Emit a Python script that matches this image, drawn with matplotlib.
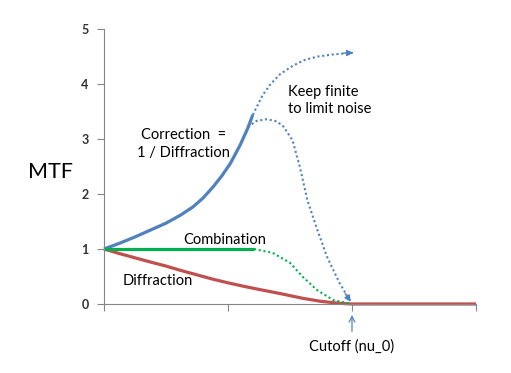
import matplotlib
matplotlib.use('Agg')
import matplotlib.pyplot as plt

# values
diff_x = [0, 0.12, 0.25, 0.38, 0.5, 0.62, 0.75, 0.88, 1.0, 1.12, 1.25, 1.42, 1.6, 1.75, 1.9, 2.0, 2.5, 3.0]
diff_y = [1, 0.92, 0.84, 0.76, 0.69, 0.61, 0.53, 0.45, 0.385, 0.325, 0.265, 0.19, 0.105, 0.048, 0.012, 0, 0, 0]

corr_x = [0, 0.12, 0.24, 0.36, 0.5, 0.62, 0.72, 0.8, 0.88, 0.95, 1.02, 1.1, 1.16, 1.2]
corr_y = [1, 1.1, 1.21, 1.33, 1.47, 1.62, 1.77, 1.93, 2.13, 2.33, 2.56, 2.9, 3.2, 3.44]

keep_x = [1.2, 1.24, 1.28, 1.34, 1.42, 1.52, 1.62, 1.72, 1.85, 2.01]
keep_y = [3.44, 3.62, 3.8, 3.99, 4.18, 4.33, 4.44, 4.5, 4.54, 4.57]

limit_x = [1.16, 1.23, 1.31, 1.38, 1.44, 1.52, 1.58, 1.64, 1.72, 1.80, 1.90, 1.99]
limit_y = [3.22, 3.33, 3.36, 3.33, 3.25, 2.98, 2.49, 1.89, 1.35, 0.85, 0.38, 0.04]

comb_x = [0, 1.21]
comb_y = [1, 1]
comb_dot_x = [1.21, 1.36, 1.5, 1.6, 1.72, 1.85, 1.98]
comb_dot_y = [1.0, 0.93, 0.75, 0.5, 0.25, 0.07, 0.01]

blue = '#4F81BD'
red = '#C0504D'
green = '#00B050'

plt.rcParams['font.family'] = ['Lato', 'DejaVu Sans']

fig = plt.figure(figsize=(5.11, 3.73), dpi=100)
ax = fig.add_axes([0.2035, 0.185, 0.728, 0.737])

ax.plot(diff_x, diff_y, color=red, lw=2.3, clip_on=False, solid_capstyle='butt', solid_joinstyle='round')
ax.plot(corr_x, corr_y, color=blue, lw=2.3, clip_on=False, solid_capstyle='butt', solid_joinstyle='round')
ax.plot(comb_x, comb_y, color=green, lw=2.3, clip_on=False, solid_capstyle='butt')
ax.plot(comb_dot_x, comb_dot_y, color=green, lw=1.5, ls=(0, (1, 1.3)))
ax.plot(keep_x, keep_y, color=blue, lw=1.5, ls=(0, (1, 1.3)))
ax.plot(limit_x, limit_y, color=blue, lw=1.5, ls=(0, (1, 1.3)))

# arrow heads at the end of the dotted curves
ax.annotate('', xy=(keep_x[-1], keep_y[-1]), xytext=(-7, -0.3), textcoords='offset points',
            arrowprops=dict(arrowstyle='-|>', color=blue, lw=1.0, mutation_scale=9,
                            shrinkA=0, shrinkB=0))
ax.annotate('', xy=(limit_x[-1], limit_y[-1]), xytext=(-4, 6), textcoords='offset points',
            arrowprops=dict(arrowstyle='-|>', color=blue, lw=1.0, mutation_scale=9,
                            shrinkA=0, shrinkB=0))

ax.set_xlim(0, 3)
ax.set_ylim(0, 5)
ax.set_xticks([0, 1, 2, 3])
ax.set_xticklabels([])
ax.set_yticks([0, 1, 2, 3, 4, 5])
for s in ['top', 'right']:
    ax.spines[s].set_visible(False)
for s in ['left', 'bottom']:
    ax.spines[s].set_color('#868686')
ax.tick_params(color='#868686', length=5, width=0.8, labelsize=9, labelcolor='#333333', pad=6)
for lab in ax.get_yticklabels():
    lab.set_fontweight('bold')

fig.text(50 / 511, 1 - 172 / 373, 'MTF', fontsize=15.5, ha='center', va='center')

tk = dict(fontsize=10.5, color='black')
ax.text(0.64, 3.07, 'Correction  =', ha='center', va='center', **tk)
ax.text(0.64, 2.75, '1 / Diffraction', ha='center', va='center', **tk)
ax.text(1.48, 3.85, 'Keep finite', ha='left', va='center', **tk)
ax.text(1.48, 3.54, 'to limit noise', ha='left', va='center', **tk)
ax.text(0.97, 1.16, 'Combination', ha='center', va='center', **tk)
ax.text(0.15, 0.42, 'Diffraction', ha='left', va='center', **tk)
ax.text(2.0, -0.77, 'Cutoff (nu_0)', ha='center', va='center', **tk)
ax.annotate('', xy=(2.0, -0.15), xytext=(2.0, -0.55), annotation_clip=False,
            arrowprops=dict(arrowstyle='->', color=blue, lw=0.9))

fig.savefig('out.png', dpi=100)
